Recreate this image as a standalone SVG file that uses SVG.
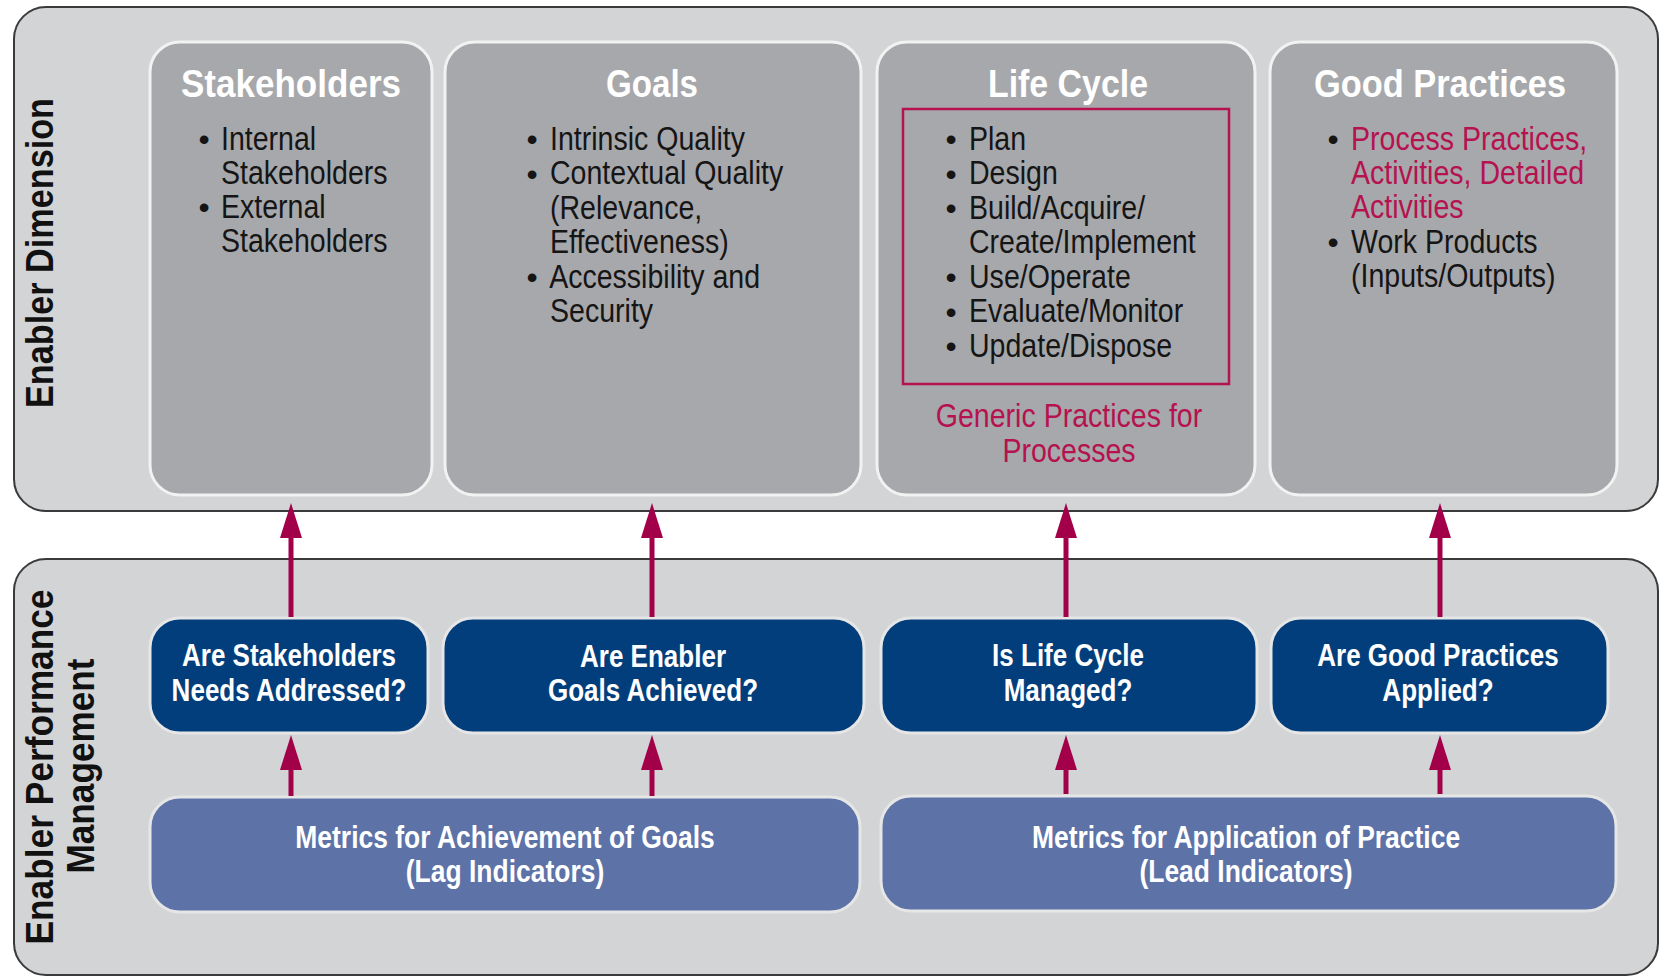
<svg xmlns="http://www.w3.org/2000/svg" width="1660" height="976" viewBox="0 0 1660 976">
<defs>
<marker id="ah" markerUnits="userSpaceOnUse" markerWidth="36" markerHeight="24" refX="0" refY="11" orient="auto" overflow="visible">
<path d="M0,0 L35,11 L0,22 Z" fill="#a3004a"/>
</marker>
<style>
.panel{fill:#d3d4d6;stroke:#3a3a3a;stroke-width:2}
.card{fill:#a7a8ab;stroke:#f2f2f2;stroke-width:3}
.q{fill:#033e7c;stroke:#e6e6e6;stroke-width:3}
.m{fill:#5d72a7;stroke:#e6e6e6;stroke-width:3}
.side{font-family:'Liberation Sans',Arial,sans-serif;font-weight:bold;font-size:38px;fill:#111;text-anchor:middle}
.title{font-family:'Liberation Sans',Arial,sans-serif;font-weight:bold;font-size:38px;fill:#fff;text-anchor:middle}
.body{font-family:'Liberation Sans',Arial,sans-serif;font-size:33px;fill:#151515}
.red{fill:#b5124f}
.mid{text-anchor:middle}
.bul{font-family:'Liberation Sans',Arial,sans-serif;font-size:32px;text-anchor:middle;fill:#151515}
.wt{font-family:'Liberation Sans',Arial,sans-serif;font-weight:bold;font-size:31px;fill:#fff;text-anchor:middle}
.conn line{stroke:#a3004a;stroke-width:5;marker-end:url(#ah)}
</style>
</defs>
<rect width="1660" height="976" fill="#ffffff"/>

<g id="enabler-dimension">
<rect class="panel" x="14" y="7" width="1644" height="504" rx="32"/>
<text class="side" transform="translate(53,253) rotate(-90)" textLength="310" lengthAdjust="spacingAndGlyphs">Enabler Dimension</text>
</g>

<g id="enabler-performance">
<rect class="panel" x="14" y="559" width="1644" height="416" rx="32"/>
<text class="side" transform="translate(53,767) rotate(-90)" textLength="355" lengthAdjust="spacingAndGlyphs">Enabler Performance</text>
<text class="side" transform="translate(94,766) rotate(-90)" textLength="215" lengthAdjust="spacingAndGlyphs">Management</text>
</g>

<g id="stakeholders">
<rect class="card" x="150" y="42" width="282" height="453" rx="30"/>
<text class="title" x="291" y="97" textLength="220" lengthAdjust="spacingAndGlyphs">Stakeholders</text>
<text class="bul" x="204" y="150">•</text>
<text class="bul" x="204" y="218">•</text>
<g transform="translate(221,0) scale(0.865,1)">
<text class="body" x="0" y="150">Internal</text>
<text class="body" x="0" y="184">Stakeholders</text>
<text class="body" x="0" y="218">External</text>
<text class="body" x="0" y="252">Stakeholders</text>
</g>
</g>

<g id="goals">
<rect class="card" x="445" y="42" width="416" height="453" rx="30"/>
<text class="title" x="652" y="97" textLength="92" lengthAdjust="spacingAndGlyphs">Goals</text>
<text class="bul" x="532" y="150">•</text>
<text class="bul" x="532" y="184.5">•</text>
<text class="bul" x="532" y="288">•</text>
<g transform="translate(550,0) scale(0.865,1)">
<text class="body" x="0" y="150">Intrinsic Quality</text>
<text class="body" x="0" y="184.5">Contextual Quality</text>
<text class="body" x="0" y="219">(Relevance,</text>
<text class="body" x="0" y="253.5">Effectiveness)</text>
<text class="body" x="-1" y="288">Accessibility and</text>
<text class="body" x="0" y="322.5">Security</text>
</g>
</g>

<g id="life-cycle">
<rect class="card" x="877" y="42" width="378" height="453" rx="30"/>
<text class="title" x="1068" y="97" textLength="160" lengthAdjust="spacingAndGlyphs">Life Cycle</text>
<rect x="903" y="109" width="326" height="275" fill="none" stroke="#b5124f" stroke-width="2.5"/>
<text class="bul" x="951" y="150">•</text>
<text class="bul" x="951" y="184.5">•</text>
<text class="bul" x="951" y="219">•</text>
<text class="bul" x="951" y="288">•</text>
<text class="bul" x="951" y="322.5">•</text>
<text class="bul" x="951" y="357">•</text>
<g transform="translate(969,0) scale(0.865,1)">
<text class="body" x="0" y="150">Plan</text>
<text class="body" x="0" y="184.5">Design</text>
<text class="body" x="0" y="219">Build/Acquire/</text>
<text class="body" x="0" y="253.5">Create/Implement</text>
<text class="body" x="0" y="288">Use/Operate</text>
<text class="body" x="0" y="322.5">Evaluate/Monitor</text>
<text class="body" x="0" y="357">Update/Dispose</text>
</g>
<g transform="translate(1069,0) scale(0.865,1)">
<text class="body red mid" x="0" y="427">Generic Practices for</text>
<text class="body red mid" x="0" y="462">Processes</text>
</g>
</g>

<g id="good-practices">
<rect class="card" x="1270" y="42" width="347" height="453" rx="30"/>
<text class="title" x="1440" y="97" textLength="252" lengthAdjust="spacingAndGlyphs">Good Practices</text>
<text class="bul red" x="1333" y="150">•</text>
<text class="bul" x="1333" y="253">•</text>
<g transform="translate(1351,0) scale(0.865,1)">
<text class="body red" x="0" y="150">Process Practices,</text>
<text class="body red" x="0" y="184">Activities, Detailed</text>
<text class="body red" x="0" y="218">Activities</text>
<text class="body" x="0" y="253">Work Products</text>
<text class="body" x="0" y="287">(Inputs/Outputs)</text>
</g>
</g>

<g id="q-stakeholders">
<rect class="q" x="150" y="618" width="278" height="115" rx="30"/>
<g transform="translate(289,0) scale(0.84,1)">
<text class="wt" x="0" y="666">Are Stakeholders</text>
<text class="wt" x="0" y="701">Needs Addressed?</text>
</g>
</g>
<g id="q-goals">
<rect class="q" x="443" y="618" width="421" height="115" rx="30"/>
<g transform="translate(653,0) scale(0.84,1)">
<text class="wt" x="0" y="667">Are Enabler</text>
<text class="wt" x="0" y="701">Goals Achieved?</text>
</g>
</g>
<g id="q-lifecycle">
<rect class="q" x="881" y="618" width="376" height="115" rx="30"/>
<g transform="translate(1068,0) scale(0.84,1)">
<text class="wt" x="0" y="666">Is Life Cycle</text>
<text class="wt" x="0" y="701">Managed?</text>
</g>
</g>
<g id="q-goodpractices">
<rect class="q" x="1271" y="618" width="337" height="115" rx="30"/>
<g transform="translate(1438,0) scale(0.84,1)">
<text class="wt" x="0" y="666">Are Good Practices</text>
<text class="wt" x="0" y="701">Applied?</text>
</g>
</g>

<g id="metrics-goals">
<rect class="m" x="150" y="797" width="710" height="115" rx="30"/>
<g transform="translate(505,0) scale(0.84,1)">
<text class="wt" x="0" y="848" style="font-size:31.5px">Metrics for Achievement of Goals</text>
<text class="wt" x="0" y="882" style="font-size:31.5px">(Lag Indicators)</text>
</g>
</g>
<g id="metrics-practice">
<rect class="m" x="881" y="796" width="735" height="115" rx="30"/>
<g transform="translate(1246,0) scale(0.84,1)">
<text class="wt" x="0" y="848" style="font-size:31.5px">Metrics for Application of Practice</text>
<text class="wt" x="0" y="882" style="font-size:31.5px">(Lead Indicators)</text>
</g>
</g>

<g id="connectors" class="conn">
<line x1="291" y1="617" x2="291" y2="538"/>
<line x1="652" y1="617" x2="652" y2="538"/>
<line x1="1066" y1="617" x2="1066" y2="538"/>
<line x1="1440" y1="617" x2="1440" y2="538"/>
<line x1="291" y1="796" x2="291" y2="770"/>
<line x1="652" y1="796" x2="652" y2="770"/>
<line x1="1066" y1="794" x2="1066" y2="770"/>
<line x1="1440" y1="794" x2="1440" y2="770"/>
</g>
</svg>
